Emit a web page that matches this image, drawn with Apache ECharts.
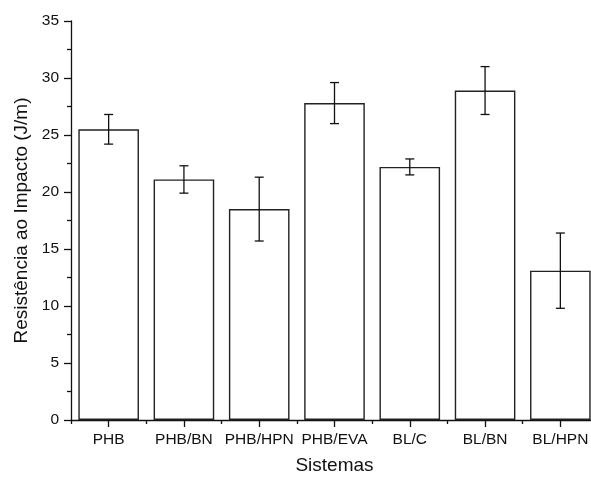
<!DOCTYPE html>
<html>
<head>
<meta charset="utf-8">
<script src="https://cdn.jsdelivr.net/npm/echarts@6/dist/echarts.min.js"></script>
<style>
  html, body { margin: 0; padding: 0; background: #fff; }
  #chart { width: 591px; height: 478px; }
</style>
</head>
<body>
<div id="chart"></div>
<script>
// Impact resistance per system (J/m), mean and standard deviation
const categories = ['PHB', 'PHB/BN', 'PHB/HPN', 'PHB/EVA', 'BL/C', 'BL/BN', 'BL/HPN'];
const means = [25.5, 21.1, 18.5, 27.8, 22.2, 28.9, 13.1];
const errors = [1.3, 1.2, 2.8, 1.8, 0.7, 2.1, 3.3];
const yTicks = [0, 5, 10, 15, 20, 25, 30, 35];

const font = 'Liberation Sans, Arial, sans-serif';
const ink = '#111';

const chart = echarts.init(document.getElementById('chart'), null, { renderer: 'canvas' });

const errorData = categories.map((c, i) => [i, means[i] - errors[i], means[i] + errors[i]]);

chart.setOption({
  animation: false,
  backgroundColor: '#fff',
  // the plot runs a little past the right edge of the page
  grid: { left: 71, top: 21, width: 527, height: 399, containLabel: false, outerBoundsMode: 'none' },
  xAxis: [
    {
      type: 'category',
      data: categories,
      axisLine: { show: true, lineStyle: { color: ink, width: 1.3 } },
      axisTick: { show: true, alignWithLabel: true, length: 7, lineStyle: { color: ink, width: 1.3 } },
      axisLabel: { color: ink, fontFamily: font, fontSize: 15.5, margin: 12, interval: 0 },
      name: 'Sistemas',
      nameLocation: 'middle',
      nameGap: 36,
      nameTextStyle: { color: ink, fontFamily: font, fontSize: 19 },
      splitLine: { show: false }
    },
    {
      type: 'category',
      data: categories,
      position: 'bottom',
      axisLine: { show: false },
      axisTick: { show: true, alignWithLabel: false, interval: 0, length: 4, lineStyle: { color: ink, width: 1.3 } },
      axisLabel: { show: false },
      splitLine: { show: false }
    }
  ],
  yAxis: {
    type: 'value',
    min: 0,
    max: 35,
    interval: 5,
    axisLine: { show: true, lineStyle: { color: ink, width: 1.3 } },
    axisTick: { show: true, length: 7, lineStyle: { color: ink, width: 1.3 } },
    minorTick: { show: true, splitNumber: 2, length: 4, lineStyle: { color: ink, width: 1.3 } },
    axisLabel: {
      color: ink, fontFamily: font, fontSize: 15.5, margin: 12,
      formatter: v => (yTicks.includes(v) ? String(v) : '')
    },
    splitLine: { show: false },
    name: 'Resistência ao Impacto (J/m)',
    nameLocation: 'middle',
    nameGap: 39,
    nameTextStyle: { color: ink, fontFamily: font, fontSize: 19 }
  },
  series: [
    {
      type: 'bar',
      data: means,
      barCategoryGap: '19.5%',
      itemStyle: { color: '#fff', borderColor: '#222', borderWidth: 1.4 },
      z: 2
    },
    {
      type: 'custom',
      data: errorData,
      z: 5,
      renderItem: function (params, api) {
        const x = api.value(0);
        const lo = api.coord([x, api.value(1)]);
        const hi = api.coord([x, api.value(2)]);
        const half = 4.5;
        const style = { stroke: '#111', lineWidth: 1.3 };
        return {
          type: 'group',
          children: [
            { type: 'line', shape: { x1: hi[0], y1: hi[1], x2: lo[0], y2: lo[1] }, style },
            { type: 'line', shape: { x1: hi[0] - half, y1: hi[1], x2: hi[0] + half, y2: hi[1] }, style },
            { type: 'line', shape: { x1: lo[0] - half, y1: lo[1], x2: lo[0] + half, y2: lo[1] }, style }
          ]
        };
      },
      encode: { x: 0, y: [1, 2] }
    }
  ]
});
</script>
</body>
</html>
